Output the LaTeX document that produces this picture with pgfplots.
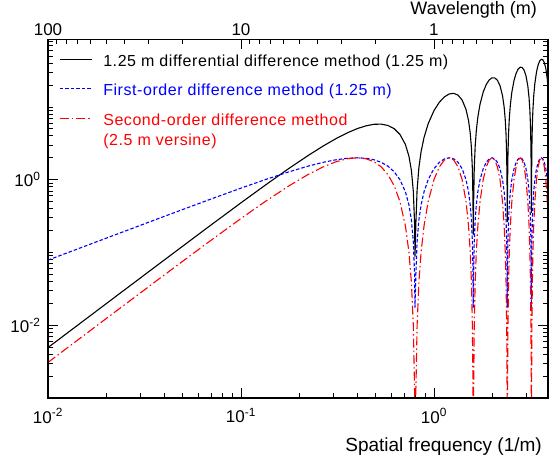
\documentclass[border=0pt]{standalone}
\usepackage{pgfplots}
\pgfplotsset{compat=1.18}
\usepackage{pgfplotstable}
\usepackage{fontspec}
\setmainfont{Liberation Sans}
\newfontfamily\legfont[LetterSpace=3.5]{Liberation Sans}

\pgfplotstableread{
f black blue red
0.01 0.0049335 0.078520 0.0030827
0.02 0.019719 0.156918 0.012312
0.04 0.078633 0.312869 0.048943
0.0666667 0.216828 0.517638 0.133975
0.1 0.480894 0.765367 0.292893
0.133333 0.837758 1.0 0.5
0.177778 1.435995 1.285575 0.826352
0.222222 2.139198 1.532089 1.173648
0.266667 2.902079 1.732051 1.5
0.311111 3.673770 1.879385 1.766044
0.355556 4.400165 1.969616 1.939693
0.4 5.026548 2.0 2.0
0.444444 5.500206 1.969616 1.939693
0.488889 5.773059 1.879385 1.766044
0.533333 5.804158 1.732051 1.5
0.577778 5.561996 1.532089 1.173648
0.622222 5.026022 1.285575 0.826352
0.666667 4.188790 1.0 0.5
0.711111 3.056320 0.684040 0.233956
0.742222 2.098127 0.449902 0.101206
0.764444 1.336937 0.278346 0.038738
0.782222 0.685680 0.139513 0.0097319
0.793333 0.260967 0.052354 0.0013705
0.797778 0.087485 0.017453 0.0001523
0.806667 0.265351 0.052354 0.0013705
0.817778 0.716847 0.139513 0.0097319
0.835556 1.461302 0.278346 0.038738
0.857778 2.424780 0.449902 0.101206
0.888889 3.820398 0.684040 0.233956
0.933333 5.864303 1.0 0.5
1.0 8.885765 1.414214 1.0
1.066667 11.608302 1.732051 1.5
1.133333 13.756594 1.931852 1.866025
1.2 15.079635 2.0 2.0
1.266667 15.375025 1.931852 1.866025
1.333333 14.510380 1.732051 1.5
1.4 12.440071 1.414214 1.0
1.466667 9.215333 1.0 0.5
1.511111 6.494676 0.684040 0.233956
1.542222 4.359579 0.449902 0.101206
1.564444 2.736055 0.278346 0.038738
1.582222 1.386946 0.139513 0.0097319
1.593333 0.524126 0.052354 0.0013705
1.597778 0.175213 0.017453 0.0001523
1.606667 0.52851 0.052354 0.0013705
1.617778 1.41811 0.139513 0.0097319
1.635556 2.86042 0.278346 0.038738
1.657778 4.68623 0.449902 0.101206
1.688889 7.25876 0.684040 0.233956
1.733333 10.89085 1.0 0.5
1.8 15.99438 1.414214 1.0
1.866667 20.31454 1.732051 1.5
1.933333 23.46714 1.931852 1.866025
2.0 25.13273 2.0 2.0
2.066667 25.08556 1.931852 1.866025
2.133333 23.21661 1.732051 1.5
2.2 19.54868 1.414214 1.0
2.266667 14.24188 1.0 0.5
2.311111 9.93303 0.684040 0.233956
2.342222 6.62103 0.449902 0.101206
2.364444 4.13518 0.278346 0.038738
2.382222 2.08821 0.139513 0.0097319
2.393333 0.78729 0.052354 0.0013705
2.397778 0.26294 0.017453 0.0001523
2.406667 0.79167 0.052354 0.0013705
2.417778 2.11937 0.139513 0.0097319
2.435556 4.25954 0.278346 0.038738
2.457778 6.94769 0.449902 0.101206
2.488889 10.69711 0.684040 0.233956
2.533333 15.91740 1.0 0.5
2.6 23.10298 1.414214 1.0
2.666667 29.02076 1.732051 1.5
2.733333 33.17768 1.931852 1.866025
2.8 35.18582 2.0 2.0
2.866667 34.79611 1.931852 1.866025
2.933333 31.92283 1.732051 1.5
3.0 26.65729 1.414214 1.0
3.066667 19.26842 1.0 0.5
3.111111 13.37139 0.684040 0.233956
3.142222 8.88248 0.449902 0.101206
3.164444 5.53430 0.278346 0.038738
3.182222 2.78947 0.139513 0.0097319
3.193333 1.05044 0.052354 0.0013705
3.197778 0.35067 0.017453 0.0001523
3.206667 1.05483 0.052354 0.0013705
3.217778 2.82064 0.139513 0.0097319
3.235556 5.65866 0.278346 0.038738
3.257778 9.20914 0.449902 0.101206
3.288889 14.13547 0.684040 0.233956
3.333333 20.94394 1.0 0.5
3.4 30.21159 1.414214 1.0
3.466667 37.72699 1.732051 1.5
3.533333 42.88822 1.931852 1.866025
3.6 45.23891 2.0 2.0
3.666667 44.50665 1.931852 1.866025
3.733333 40.62906 1.732051 1.5
3.8 33.76590 1.414214 1.0
3.866667 24.29497 1.0 0.5
3.911111 16.80975 0.684040 0.233956
3.942222 11.14394 0.449902 0.101206
3.964444 6.93341 0.278346 0.038738
3.982222 3.49073 0.139513 0.0097319
3.993333 1.31361 0.052354 0.0013705
3.997778 0.43840 0.017453 0.0001523
}\datatable

\begin{document}
\begin{tikzpicture}
\begin{axis}[
  scale only axis, width=500pt, height=358.7pt,
  xmode=log, ymode=log,
  xmin=0.01, xmax=3.9, ymin=0.001, ymax=85,
  axis line style={line width=1.1pt},
  every tick/.style={black, line width=0.8pt},
  major tick length=10pt, minor tick length=5pt,
  tick align=inside,
  xtick pos=left,
  xtick={0.01,0.1,1},
  xticklabels={10\textsuperscript{-2},10\textsuperscript{-1},10\textsuperscript{0}},
  minor xtick={0.02,0.03,0.04,0.05,0.06,0.07,0.08,0.09,0.2,0.3,0.4,0.5,0.6,0.7,0.8,0.9,2,3},
  ytick={0.01,1},
  yticklabels={10\textsuperscript{-2},10\textsuperscript{0}},
  minor ytick={0.002,0.003,0.004,0.005,0.006,0.007,0.008,0.009,0.02,0.03,0.04,0.05,0.06,0.07,0.08,0.09,0.1,0.2,0.3,0.4,0.5,0.6,0.7,0.8,0.9,2,3,4,5,6,7,8,9,10,20,30,40,50,60,70,80},
  ytick pos=both,
  tick label style={font=\fontsize{17}{20}\selectfont},
  xticklabel style={yshift=-7pt},
  yticklabel style={xshift=-4pt},
  legend style={draw=none, fill=none, at={(0,1)}, anchor=north west,
    xshift=8pt, yshift=-11pt,
    font=\legfont\fontsize{16}{20}\selectfont,
    row sep=14pt, column sep=11pt,
    nodes={inner sep=0pt}},
  legend cell align=left,
  legend image code/.code={\draw[#1] (0pt,1pt) -- (32pt,1pt);},
]
\addplot[black, line width=1.1pt] table[x=f, y=black] {\datatable};
\addlegendentry{\strut 1.25 m differential difference method (1.25 m)}
\addplot[blue, line width=1.1pt, dash pattern=on 3.5pt off 2pt] table[x=f, y=blue] {\datatable};
\addlegendentry{\strut\textcolor{blue}{First-order difference method (1.25 m)}}
\addplot[red, line width=1.1pt, dash pattern=on 9pt off 3pt on 1.5pt off 3pt] table[x=f, y=red] {\datatable};
\addlegendentry{\textcolor{red}{\begin{tabular}[t]{@{}l@{}}Second-order difference method\\(2.5 m versine)\end{tabular}}}
\coordinate (bl) at (rel axis cs:0,0);
\coordinate (br) at (rel axis cs:1,0);
\coordinate (tr) at (rel axis cs:1,1);
\end{axis}
\begin{axis}[
  scale only axis, width=500pt, height=358.7pt,
  xmode=log, x dir=reverse,
  xmin=0.25641, xmax=100, ymin=0, ymax=1,
  axis line style={line width=1.1pt},
  every tick/.style={black, line width=0.8pt},
  major tick length=10pt, minor tick length=5pt,
  tick align=inside,
  xtick pos=right, xticklabel pos=right,
  xtick={1,10,100},
  xticklabels={1,10,100},
  minor xtick={0.3,0.4,0.5,0.6,0.7,0.8,0.9,2,3,4,5,6,7,8,9,20,30,40,50,60,70,80,90},
  ytick=\empty,
  tick label style={font=\fontsize{17}{20}\selectfont},
]
\end{axis}
\node[anchor=base east, inner sep=0pt, font=\fontsize{19}{22}\selectfont] at ([xshift=-6pt,yshift=-54pt]br) {Spatial frequency (1/m)};
\node[anchor=base east, inner sep=0pt, font=\fontsize{18}{21}\selectfont] at ([xshift=-11pt,yshift=25pt]tr) {Wavelength (m)};
\pgfresetboundingbox
\useasboundingbox ([xshift=-48pt,yshift=-59pt]bl) rectangle ([xshift=1pt,yshift=39.3pt]tr);
\end{tikzpicture}
\end{document}
